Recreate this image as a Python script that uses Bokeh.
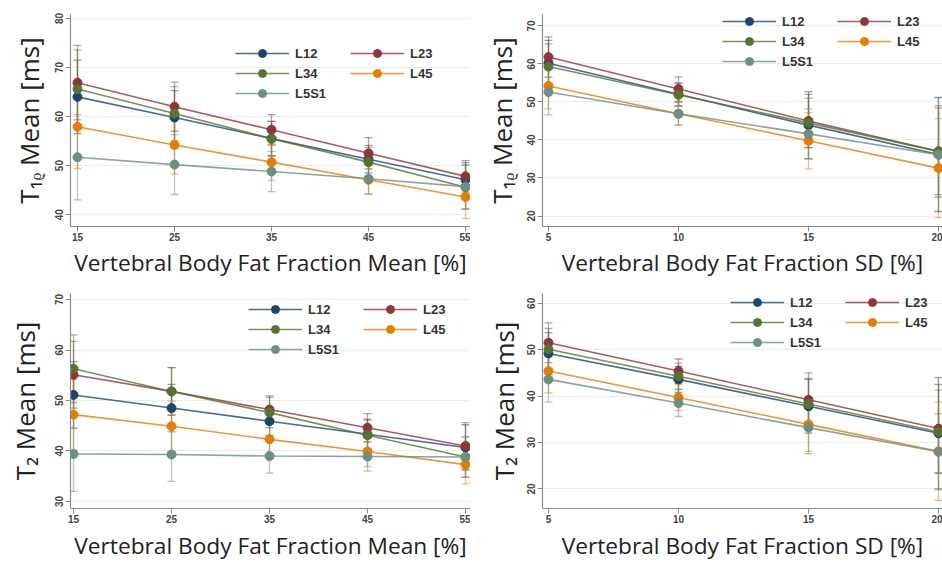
from bokeh.plotting import figure
from bokeh.layouts import gridplot
from bokeh.models import (ColumnDataSource, Whisker, TeeHead, Legend, LegendItem,
                          Range1d, FixedTicker)
from bokeh.embed import file_html
from bokeh.resources import INLINE

# ---------------- data ----------------
SEGMENTS = ["L12", "L23", "L34", "L45", "L5S1"]
COLORS = ["#1a476f", "#90353b", "#55752f", "#e37e00", "#6e8e84"]

FF_MEAN = [15, 25, 35, 45, 55]
FF_SD = [5, 10, 15, 20]

# T1rho mean vs vertebral body fat fraction mean (rows follow SEGMENTS)
t1rho_by_ffmean = [
    [64.0, 59.8, 55.5, 51.3, 47.1],
    [66.9, 62.0, 57.3, 52.5, 47.8],
    [65.6, 60.6, 55.5, 50.7, 45.6],
    [57.9, 54.2, 50.7, 47.1, 43.6],
    [51.7, 50.2, 48.8, 47.3, 45.7],
]
t1rho_by_ffmean_err = [
    [7.5, 5.5, 3.5, 2.8, 3.5],
    [7.6, 5.0, 3.1, 3.2, 3.2],
    [8.0, 5.5, 3.5, 3.0, 4.5],
    [8.5, 5.9, 3.7, 3.0, 4.4],
    [8.7, 6.1, 4.1, 3.0, 4.5],
]

# T1rho mean vs vertebral body fat fraction SD
t1rho_by_ffsd = [
    [60.2, 52.0, 43.9, 36.2],
    [61.8, 53.4, 45.0, 37.0],
    [59.3, 51.9, 44.5, 37.0],
    [54.2, 46.9, 39.8, 32.6],
    [52.6, 46.9, 41.6, 36.1],
]
t1rho_by_ffsd_err = [
    [6.0, 3.0, 8.8, 15.0],
    [5.3, 3.2, 7.0, 11.4],
    [6.0, 3.0, 6.5, 12.0],
    [6.0, 3.0, 7.4, 13.0],
    [6.0, 3.0, 6.6, 15.0],
]

# T2 mean vs vertebral body fat fraction mean
t2_by_ffmean = [
    [51.1, 48.5, 45.9, 43.3, 40.7],
    [55.1, 51.8, 48.2, 44.6, 41.0],
    [56.3, 51.8, 47.6, 43.1, 38.8],
    [47.2, 44.9, 42.3, 39.9, 37.3],
    [39.4, 39.3, 39.0, 38.9, 38.8],
]
t2_by_ffmean_err = [
    [6.6, 4.7, 2.8, 3.0, 4.5],
    [6.6, 4.7, 2.7, 2.8, 4.6],
    [6.7, 4.7, 3.0, 3.0, 4.0],
    [7.0, 5.0, 3.0, 3.0, 3.8],
    [7.4, 5.3, 3.4, 2.9, 4.0],
]

# T2 mean vs vertebral body fat fraction SD
t2_by_ffsd = [
    [49.2, 43.6, 37.8, 32.0],
    [51.5, 45.4, 39.2, 33.0],
    [50.1, 44.3, 38.3, 32.3],
    [45.4, 39.7, 33.9, 28.1],
    [43.6, 38.5, 33.2, 28.0],
]
t2_by_ffsd_err = [
    [4.5, 2.8, 5.8, 12.0],
    [4.3, 2.6, 5.8, 9.5],
    [4.5, 2.8, 5.5, 9.0],
    [4.7, 2.8, 5.8, 10.6],
    [4.9, 2.9, 5.6, 8.2],
]

XTICKS_MEAN = [15, 25, 35, 45, 55]
XTICKS_SD = [5, 10, 15, 20]
YTICKS_T1_MEAN = [40, 50, 60, 70, 80]
YTICKS_T1_SD = [20, 30, 40, 50, 60, 70]
YTICKS_T2_MEAN = [30, 40, 50, 60, 70]
YTICKS_T2_SD = [20, 30, 40, 50, 60]

XLABEL_MEAN = "Vertebral Body Fat Fraction Mean [%]"
XLABEL_SD = "Vertebral Body Fat Fraction SD [%]"
YLABEL_T1 = "T\u2081\u1d68 Mean [ms]"
YLABEL_T2 = "T\u2082 Mean [ms]"

# legend is laid out in two columns: L12 L23 / L34 L45 / L5S1
LEGEND_ORDER = ["L12", "L34", "L5S1", "L23", "L45"]


def make_panel(xs, means, errs, xticks, yticks, xr, yr, xlabel, ylabel,
               width, height, bl, bt, bb, ylab_standoff, xlab_standoff, leg_loc):
    p = figure(width=width, height=height, x_range=Range1d(*xr), y_range=Range1d(*yr),
               output_backend="svg", toolbar_location=None,
               min_border_left=bl, min_border_right=0, min_border_top=bt,
               min_border_bottom=bb)
    p.outline_line_color = None
    p.background_fill_color = "white"
    p.border_fill_color = "white"
    p.xgrid.visible = False
    p.ygrid.grid_line_color = "#ececec"
    p.ygrid.grid_line_width = 1

    p.xaxis.ticker = FixedTicker(ticks=xticks)
    p.yaxis.ticker = FixedTicker(ticks=yticks)
    for ax in (p.xaxis[0], p.yaxis[0]):
        ax.axis_line_color = "#8a8a8a"
        ax.axis_line_width = 1.2
        ax.major_tick_line_color = "#8a8a8a"
        ax.major_tick_out = 5
        ax.major_tick_in = 0
        ax.minor_tick_line_color = None
        ax.major_label_text_font = "Liberation Sans"
        ax.major_label_text_font_size = "10px"
        ax.major_label_text_font_style = "bold"
        ax.major_label_text_color = "#444444"
        ax.axis_label_text_font = "Open Sans"
        ax.axis_label_text_font_style = "normal"
        ax.axis_label_text_color = "#222222"
    p.xaxis.axis_label_text_font_size = "22.7px"
    p.yaxis.axis_label_text_font_size = "26px"
    p.yaxis.major_label_orientation = "vertical"
    p.yaxis.major_label_standoff = 2
    p.xaxis.major_label_standoff = 1
    p.yaxis.axis_label = ylabel
    p.xaxis.axis_label = xlabel
    p.yaxis.axis_label_standoff = ylab_standoff
    p.xaxis.axis_label_standoff = xlab_standoff

    items = {}
    for seg, col, m, e in zip(SEGMENTS, COLORS, means, errs):
        lower = [a - b for a, b in zip(m, e)]
        upper = [a + b for a, b in zip(m, e)]
        src = ColumnDataSource(dict(x=xs, y=m, lower=lower, upper=upper))
        w = Whisker(source=src, base="x", lower="lower", upper="upper",
                    line_color=col, line_alpha=0.5, line_width=1.3,
                    upper_head=TeeHead(size=8, line_color=col, line_alpha=0.5, line_width=1.3),
                    lower_head=TeeHead(size=8, line_color=col, line_alpha=0.5, line_width=1.3))
        w.level = "underlay"
        p.add_layout(w)
        r1 = p.line("x", "y", source=src, line_color=col, line_width=1.6, line_alpha=0.8)
        r2 = p.scatter("x", "y", source=src, size=9, fill_color=col, line_color=col)
        items[seg] = LegendItem(label=seg, renderers=[r1, r2])

    leg = Legend(items=[items[s] for s in LEGEND_ORDER], location=leg_loc,
                 orientation="vertical", ncols=2,
                 glyph_width=54, glyph_height=20, label_height=20, label_width=55,
                 label_standoff=6, padding=0, margin=0, spacing=0,
                 label_text_font="Liberation Sans", label_text_font_size="13px",
                 label_text_font_style="bold", label_text_color="#333333",
                 border_line_alpha=0, background_fill_alpha=0)
    p.add_layout(leg)
    return p


p1 = make_panel(FF_MEAN, t1rho_by_ffmean, t1rho_by_ffmean_err, XTICKS_MEAN, YTICKS_T1_MEAN,
                (14.28, 55.51), (37.58, 80.8), XLABEL_MEAN, YLABEL_T1,
                470, 280, 68, 14, 52, 6, 3, (165, 123))
p2 = make_panel(FF_SD, t1rho_by_ffsd, t1rho_by_ffsd_err, XTICKS_SD, YTICKS_T1_SD,
                (4.77, 20.154), (17.24, 73.0), XLABEL_SD, YLABEL_T1,
                472, 280, 72, 6, 52, 5, 3, (180, 155))
p3 = make_panel(FF_MEAN, t2_by_ffmean, t2_by_ffmean_err, XTICKS_MEAN, YTICKS_T2_MEAN,
                (14.69, 55.51), (28.61, 71.19), XLABEL_MEAN, YLABEL_T2,
                470, 284, 70, 13, 56, 10, 4, (178, 149))
p4 = make_panel(FF_SD, t2_by_ffsd, t2_by_ffsd_err, XTICKS_SD, YTICKS_T2_SD,
                (4.77, 20.154), (15.77, 62.12), XLABEL_SD, YLABEL_T2,
                472, 284, 72, 9, 56, 3, 4, (188, 156))

grid = gridplot([[p1, p2], [p3, p4]], toolbar_location=None)

open("out.html", "w").write(file_html(grid, INLINE))
